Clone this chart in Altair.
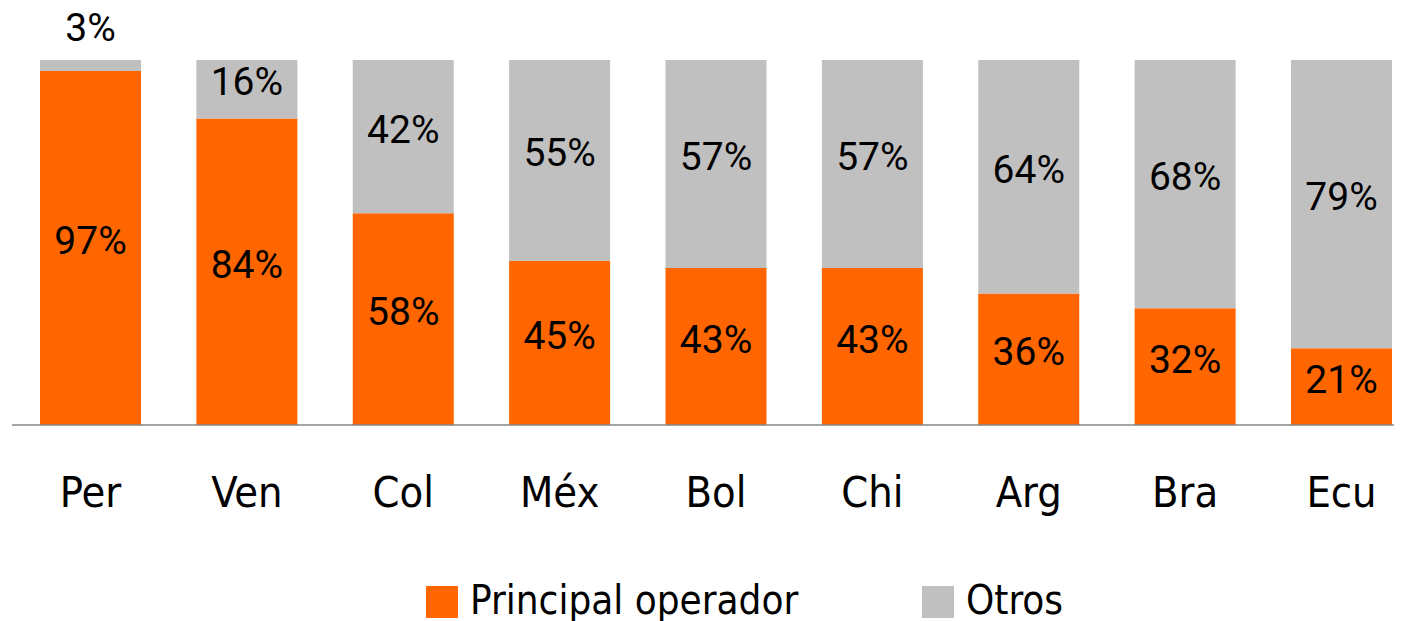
import altair as alt
import pandas as pd

countries = ["Per", "Ven", "Col", "Méx", "Bol", "Chi", "Arg", "Bra", "Ecu"]
principal = [97, 84, 58, 45, 43, 43, 36, 32, 21]
otros = [3, 16, 42, 55, 57, 57, 64, 68, 79]
series = ["Principal operador", "Otros"]
colors = ["#FF6600", "#C0C0C0"]

rows = []
for c, p, o in zip(countries, principal, otros):
    rows.append({"country": c, "series": series[0], "order": 0, "value": p})
    rows.append({"country": c, "series": series[1], "order": 1, "value": o})
df = pd.DataFrame(rows)

W, H = 1352, 365
LABEL_FONT = "'DejaVu Sans Condensed', 'DejaVu Sans'"
NUM_FONT = "Roboto"

x_enc = alt.X(
    "country:N",
    sort=countries,
    scale=alt.Scale(paddingInner=0.354, paddingOuter=0),
    axis=alt.Axis(
        title=None, domain=False, ticks=False, tickSize=0, labelAngle=0,
        labelFont=LABEL_FONT, labelFontSize=43, labelColor="#000000",
        labelBaseline="alphabetic", labelPadding=81,
    ),
)
y_scale = alt.Scale(domain=[0, 100])

base = alt.Chart(df).transform_stack(
    stack="value", groupby=["country"], as_=["y0", "y1"],
    sort=[alt.SortField("order", order="ascending")],
).transform_calculate(mid="(datum.y0 + datum.y1) / 2")

bars = base.mark_bar().encode(
    x=x_enc,
    y=alt.Y("y0:Q", scale=y_scale, axis=None),
    y2="y1:Q",
    color=alt.Color(
        "series:N",
        scale=alt.Scale(domain=series, range=colors),
        legend=alt.Legend(
            title=None, orient="none", legendX=382, legendY=522,
            direction="horizontal", symbolType="square", symbolSize=1024,
            symbolStrokeWidth=0, labelFont=LABEL_FONT, labelFontSize=40,
            labelColor="#000000", labelOffset=8, columnPadding=119,
            labelLimit=0, padding=0,
        ),
    ),
    order=alt.Order("order:Q"),
)

labels = base.transform_filter("datum.value >= 5").mark_text(
    font=NUM_FONT, fontSize=39, color="#000000", baseline="middle", dy=-6
).encode(
    x=alt.X("country:N", sort=countries),
    y=alt.Y("mid:Q", scale=y_scale),
    text=alt.Text("label:N"),
).transform_calculate(label="datum.value + '%'")

small = base.transform_filter("datum.value < 5").mark_text(
    font=NUM_FONT, fontSize=39, color="#000000", baseline="middle", dy=-31
).encode(
    x=alt.X("country:N", sort=countries),
    y=alt.Y("y1:Q", scale=y_scale),
    text=alt.Text("label:N"),
).transform_calculate(label="datum.value + '%'")

axis_line = alt.Chart(pd.DataFrame({"a": [0]})).mark_rule(
    color="#868686", strokeWidth=1.5
).encode(x=alt.value(-28), x2=alt.value(W + 20), y=alt.value(H))

chart = alt.layer(bars, labels, small, axis_line).properties(
    width=W, height=H,
    autosize=alt.AutoSizeParams(type="none"),
    padding={"left": 32, "top": 52, "right": 2, "bottom": 215},
).configure_view(stroke=None)

chart.save("out.html", embed_options={"renderer": "svg", "actions": False})
